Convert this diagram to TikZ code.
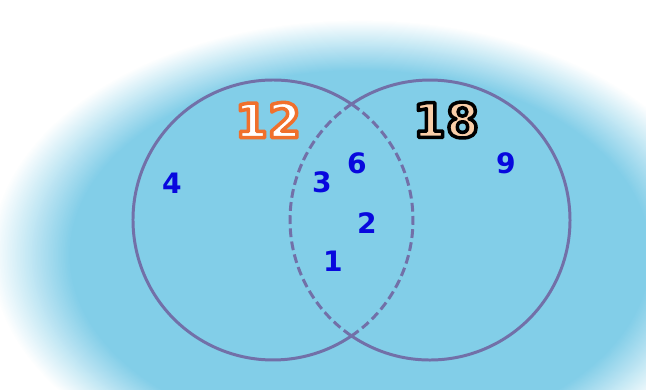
\documentclass[tikz,border=0pt]{standalone}
\usepackage{fontspec}
\setmainfont{DejaVu Sans}
\usetikzlibrary{calc}

\definecolor{skyfill}{RGB}{130,206,232}
\definecolor{ringline}{RGB}{114,112,168}
\definecolor{digitblue}{RGB}{8,8,222}
\definecolor{tagorange}{RGB}{240,112,44}
\definecolor{tagpeach}{RGB}{250,206,168}

% outlined text: fill colour #1, stroke given as pdf rgb #2
\newcommand{\rimtext}[3]{{\color{#1}\special{pdf:literal q 2 Tr 2 w 1 j #2 RG}#3\special{pdf:literal Q}}}

\begin{document}
\begin{tikzpicture}[
    ring/.style={draw=ringline, line width=1.7pt},
    ringdash/.style={ring, dash pattern=on 5pt off 2.5pt},
    digit/.style={text=digitblue, font=\fontsize{16}{16}\selectfont\bfseries, inner sep=0pt},
    settag/.style={font=\fontsize{27}{27}\selectfont\bfseries, inner sep=0pt}
]
    % Canvas (646 x 389 px, 50 px per unit)
    \useasboundingbox (0,0) rectangle (12.92,7.78);

    % Soft blue glow behind the diagram (rings from white to blue)
    \begin{scope}
        \clip (0,0) rectangle (12.92,7.78);
        \fill[white] (0,0) rectangle (12.92,7.78);
        \foreach \k in {0,...,48}{
            \pgfmathsetmacro{\f}{1.12-0.005*\k}
            \pgfmathsetmacro{\p}{100*\k/48}
            \fill[skyfill!\p!white] (7.2,2.68) ellipse[x radius=6.6*\f, y radius=4.2*\f];
        }
    \end{scope}

    % Set centres
    \coordinate (L) at (5.46,3.38);
    \coordinate (R) at (8.60,3.38);

    % Outer arcs solid, arcs inside the overlap dashed
    \draw[ring] ($(L)+(55.9:2.8)$) arc[start angle=55.9, end angle=304.1, radius=2.8];
    \draw[ringdash] ($(L)+(-55.9:2.8)$) arc[start angle=-55.9, end angle=55.9, radius=2.8];
    \draw[ring] ($(R)+(-124.1:2.8)$) arc[start angle=-124.1, end angle=124.1, radius=2.8];
    \draw[ringdash] ($(R)+(124.1:2.8)$) arc[start angle=124.1, end angle=235.9, radius=2.8];

    % Set titles
    \node[settag] (twelve) at (5.36,5.38) {\rimtext{white}{0.941 0.439 0.173}{12}};
    \node[settag] (eighteen) at (8.92,5.38) {\rimtext{tagpeach}{0 0 0}{18}};

    % Divisors
    \node[digit] (four) at (3.44,4.12) {4};
    \node[digit] (three) at (6.44,4.14) {3};
    \node[digit] (six) at (7.14,4.52) {6};
    \node[digit] (two) at (7.34,3.32) {2};
    \node[digit] (one) at (6.66,2.56) {1};
    \node[digit] (nine) at (10.12,4.52) {9};

\end{tikzpicture}
\end{document}
